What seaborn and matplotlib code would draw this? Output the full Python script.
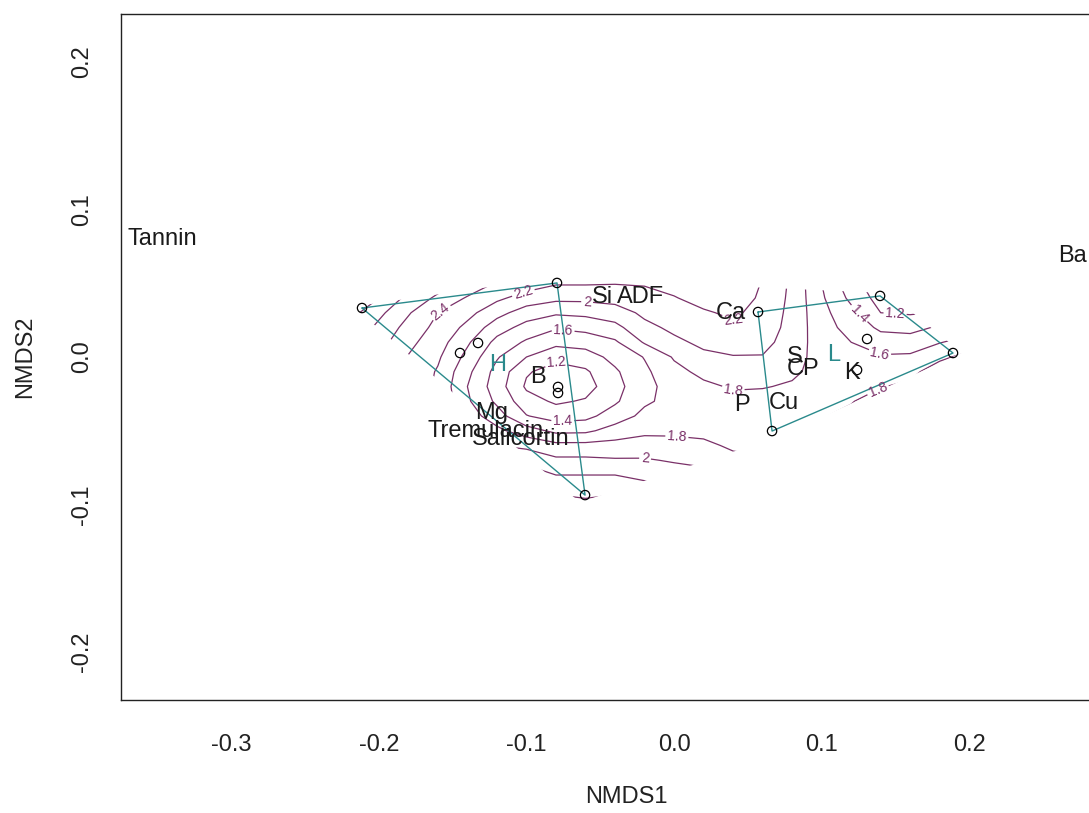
import numpy as np
import pandas as pd
import matplotlib
matplotlib.use("Agg")
import matplotlib.pyplot as plt
import seaborn as sns
from matplotlib.patches import Polygon

# ---------------- data ----------------
site_x = [-0.2114, -0.0793, -0.1450, -0.1328, -0.0786, -0.0786, -0.0603,
          0.0569, 0.1396, 0.1308, 0.1890, 0.0664, 0.1240]
site_y = [0.0332, 0.0502, 0.0027, 0.0095, -0.0203, -0.0244, -0.0936,
          0.0305, 0.0414, 0.0122, 0.0027, -0.0502, -0.0088]
site_group = ["H"] * 7 + ["L"] * 6

species = ["Tannin", "Ba", "Si", "ADF", "Ca", "B", "S", "CP", "K", "P", "Cu",
           "Mg", "Tremulacin", "Salicortin"]
species_x = [-0.3469, 0.2697, -0.0488, -0.0230, 0.0386, -0.0921, 0.0820, 0.0874,
             0.1206, 0.0460, 0.0745, -0.1233, -0.1280, -0.1037]
species_y = [0.0800, 0.0685, 0.0407, 0.0407, 0.0298, -0.0136, 0.0000, -0.0081,
             -0.0108, -0.0325, -0.0312, -0.0380, -0.0502, -0.0556]

group_names = ["H", "L"]
group_label_x = [-0.1192, 0.1084]
group_label_y = [-0.0054, 0.0014]

# fitted surface (ordisurf)
surf_x = [-0.22, -0.20, -0.18, -0.16, -0.14, -0.12, -0.10, -0.08, -0.06, -0.04, -0.02,
          0.00, 0.02, 0.04, 0.06, 0.08, 0.10, 0.12, 0.14, 0.16, 0.18, 0.20]
surf_y = [0.06, 0.05, 0.04, 0.03, 0.02, 0.01, 0.00, -0.01, -0.02, -0.03, -0.04,
          -0.05, -0.06, -0.07, -0.08, -0.09, -0.10]
surf_z = [
    [3.45, 3.25, 3.00, 2.85, 2.75, 2.60, 2.50, 2.35, 2.35, 2.32, 2.32, 2.32, 2.35, 2.37, 2.22, 1.97, 1.60, 1.20, 1.10, 1.08, 1.10, 1.15],
    [3.35, 3.12, 2.88, 2.70, 2.55, 2.38, 2.30, 2.22, 2.22, 2.21, 2.22, 2.26, 2.30, 2.32, 2.19, 1.96, 1.60, 1.27, 1.08, 1.05, 1.08, 1.13],
    [3.22, 3.00, 2.74, 2.56, 2.38, 2.24, 2.12, 2.05, 2.05, 2.07, 2.12, 2.19, 2.26, 2.29, 2.17, 1.95, 1.63, 1.35, 1.12, 1.10, 1.13, 1.18],
    [3.08, 2.85, 2.62, 2.40, 2.26, 2.07, 1.90, 1.83, 1.85, 1.91, 2.04, 2.10, 2.18, 2.23, 2.14, 1.94, 1.66, 1.46, 1.20, 1.18, 1.21, 1.28],
    [2.98, 2.75, 2.53, 2.34, 2.15, 1.89, 1.73, 1.62, 1.66, 1.74, 1.95, 2.04, 2.11, 2.17, 2.11, 1.93, 1.68, 1.53, 1.36, 1.33, 1.43, 1.50],
    [2.90, 2.68, 2.45, 2.29, 2.03, 1.74, 1.57, 1.46, 1.48, 1.57, 1.82, 1.96, 2.04, 2.08, 2.06, 1.91, 1.70, 1.60, 1.50, 1.50, 1.59, 1.68],
    [2.85, 2.63, 2.39, 2.23, 1.94, 1.62, 1.40, 1.25, 1.31, 1.46, 1.61, 1.82, 1.96, 1.99, 1.99, 1.88, 1.72, 1.66, 1.62, 1.63, 1.76, 1.86],
    [2.82, 2.60, 2.36, 2.18, 1.85, 1.53, 1.22, 1.12, 1.17, 1.37, 1.56, 1.74, 1.85, 1.90, 1.90, 1.83, 1.74, 1.71, 1.70, 1.75, 1.90, 2.00],
    [2.82, 2.60, 2.35, 2.16, 1.80, 1.50, 1.17, 1.05, 1.12, 1.33, 1.54, 1.68, 1.76, 1.82, 1.81, 1.78, 1.75, 1.75, 1.79, 1.84, 2.00, 2.10],
    [2.84, 2.62, 2.37, 2.18, 1.83, 1.56, 1.28, 1.17, 1.22, 1.37, 1.57, 1.66, 1.72, 1.74, 1.74, 1.75, 1.77, 1.79, 1.88, 1.92, 2.08, 2.18],
    [2.90, 2.67, 2.42, 2.25, 1.90, 1.69, 1.41, 1.31, 1.34, 1.50, 1.65, 1.68, 1.71, 1.70, 1.71, 1.75, 1.79, 1.84, 1.95, 2.00, 2.15, 2.25],
    [2.97, 2.75, 2.50, 2.35, 2.00, 1.85, 1.69, 1.55, 1.56, 1.68, 1.76, 1.76, 1.75, 1.72, 1.72, 1.78, 1.83, 1.90, 2.00, 2.07, 2.21, 2.31],
    [3.05, 2.85, 2.60, 2.45, 2.10, 2.00, 1.95, 1.86, 1.86, 1.87, 1.88, 1.87, 1.84, 1.77, 1.76, 1.83, 1.88, 1.95, 2.05, 2.14, 2.27, 2.37],
    [3.15, 2.95, 2.70, 2.55, 2.20, 2.15, 2.15, 2.04, 2.04, 2.02, 2.02, 1.98, 1.95, 1.85, 1.82, 1.90, 1.93, 2.00, 2.10, 2.20, 2.33, 2.43],
    [3.25, 3.05, 2.80, 2.65, 2.30, 2.30, 2.30, 2.20, 2.20, 2.20, 2.15, 2.10, 2.06, 1.95, 1.90, 1.97, 2.00, 2.05, 2.15, 2.26, 2.39, 2.49],
    [3.35, 3.15, 2.90, 2.75, 2.40, 2.45, 2.45, 2.35, 2.33, 2.35, 2.28, 2.22, 2.18, 2.05, 2.00, 2.05, 2.06, 2.10, 2.20, 2.32, 2.45, 2.55],
    [3.45, 3.25, 3.00, 2.85, 2.50, 2.60, 2.60, 2.50, 2.45, 2.50, 2.40, 2.34, 2.30, 2.15, 2.10, 2.12, 2.12, 2.15, 2.25, 2.38, 2.50, 2.60],
]
contour_levels = [1.0, 1.2, 1.4, 1.6, 1.8, 2.0, 2.2, 2.4, 2.6, 2.8, 3.0]

# where the contour labels sit in the reference
contour_label_x = [-0.0799, -0.0752, -0.0752, -0.0589, -0.1023, -0.1600, 0.0020,
                   -0.0196, 0.0400, 0.0400, 0.1226, 0.1497, 0.1396, 0.1375]
contour_label_y = [-0.0041, -0.0475, 0.0183, 0.0373, 0.0441, 0.0339, -0.0529,
                   -0.0685, -0.0224, 0.0230, 0.0264, 0.0285, 0.0027, -0.0210]

x_ticks = [-0.3, -0.2, -0.1, 0.0, 0.1, 0.2]
y_ticks = [-0.2, -0.1, 0.0, 0.1, 0.2]

# ---------------- style ----------------
sns.set_theme(style="white")
plt.rcParams["font.family"] = ["Liberation Sans", "DejaVu Sans"]

surf_color = "#7a3068"
hull_color = "#2a8a8c"
FS = 17

fig = plt.figure(figsize=(10.89, 8.13), dpi=100)
ax = fig.add_axes([121 / 1089, 113 / 813, 1010.6 / 1089, 686 / 813])
ax.set_xlim(-0.3747, 0.31)
ax.set_ylim(-0.2325, 0.2325)


def convex_hull(px, py):
    pts = sorted(set(zip(px, py)))
    if len(pts) <= 2:
        return pts

    def cross(o, a, b):
        return (a[0] - o[0]) * (b[1] - o[1]) - (a[1] - o[1]) * (b[0] - o[0])

    lower = []
    for p in pts:
        while len(lower) >= 2 and cross(lower[-2], lower[-1], p) <= 0:
            lower.pop()
        lower.append(p)
    upper = []
    for p in reversed(pts):
        while len(upper) >= 2 and cross(upper[-2], upper[-1], p) <= 0:
            upper.pop()
        upper.append(p)
    return lower[:-1] + upper[:-1]


# surface contours
X, Y = np.meshgrid(surf_x, surf_y)
Z = np.array(surf_z)
cs = ax.contour(X, Y, Z, levels=contour_levels, colors=surf_color,
                linewidths=0.9, zorder=1)
labels = ax.clabel(cs, fmt=lambda v: f"{v:g}", fontsize=10, inline=True,
                   inline_spacing=2,
                   manual=list(zip(contour_label_x, contour_label_y)))
for t in labels:
    t.set_color(surf_color)

# clip surface to (slightly widened) hull of all sites
all_hull = np.array(convex_hull(site_x, site_y))
cen = all_hull.mean(axis=0)
vec = all_hull - cen
vec = vec / np.linalg.norm(vec, axis=1)[:, None]
clip_pts = all_hull + 0.006 * vec
clip_poly = Polygon(clip_pts, closed=True, transform=ax.transData,
                    facecolor="none", edgecolor="none")
cs.set_clip_path(clip_poly)

# group hulls
sites = pd.DataFrame({"x": site_x, "y": site_y, "group": site_group})
for g, sub in sites.groupby("group"):
    h = convex_hull(sub["x"].tolist(), sub["y"].tolist())
    hx = [p[0] for p in h] + [h[0][0]]
    hy = [p[1] for p in h] + [h[0][1]]
    ax.plot(hx, hy, color=hull_color, lw=1.0, zorder=2)

# site points
sns.scatterplot(data=sites, x="x", y="y", ax=ax, marker="o", s=45,
                facecolor="none", edgecolor="black", linewidth=0.9,
                legend=False, zorder=3)

# group labels
for name, gx, gy in zip(group_names, group_label_x, group_label_y):
    ax.text(gx, gy, name, color=hull_color, fontsize=FS, ha="center",
            va="center", zorder=4)

# species labels
for name, sx, sy in zip(species, species_x, species_y):
    ax.text(sx, sy, name, color="#1a1a1a", fontsize=FS, ha="center",
            va="center", zorder=5)

# axes cosmetics
ax.set_xticks(x_ticks)
ax.set_xticklabels([f"{v:.1f}" for v in x_ticks])
ax.set_yticks(y_ticks)
ax.set_yticklabels([f"{v:.1f}" for v in y_ticks], rotation=90, va="center")
ax.tick_params(axis="both", direction="out", length=9.4, width=0.9,
               colors="#222222", labelsize=FS, labelcolor="#222222")
ax.tick_params(axis="x", pad=15)
ax.tick_params(axis="y", pad=11)
ax.set_xlabel("NMDS1", fontsize=FS, labelpad=22, color="#222222")
ax.set_ylabel("NMDS2", fontsize=FS, labelpad=25, color="#222222")
for sp in ax.spines.values():
    sp.set_visible(True)
    sp.set_color("#222222")
    sp.set_linewidth(1.0)
ax.grid(False)
ax.set_facecolor("white")
fig.patch.set_facecolor("white")

fig.savefig("out.png", dpi=100, facecolor="white")
